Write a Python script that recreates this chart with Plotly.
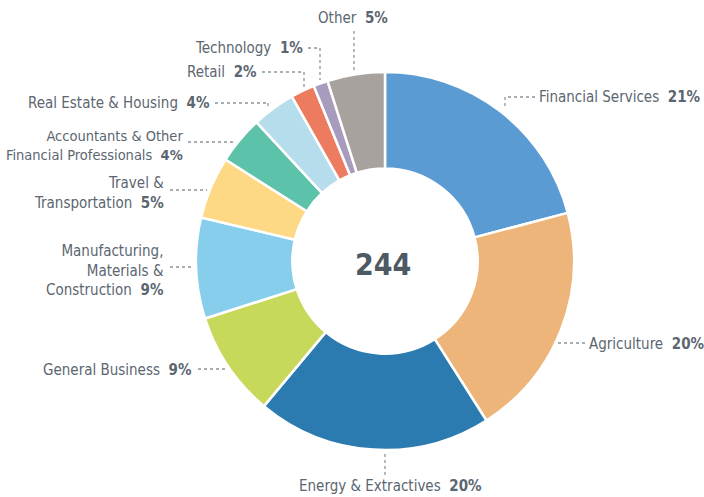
import plotly.graph_objects as go

categories = ["Financial Services", "Agriculture", "Energy & Extractives", "General Business",
              "Manufacturing, Materials & Construction", "Travel & Transportation",
              "Accountants & Other Financial Professionals", "Real Estate & Housing",
              "Retail", "Technology", "Other"]
values = [51, 49, 49, 22, 21, 13, 10, 9, 5, 3, 12]
colors = ["#5A9BD4", "#EDB57A", "#2C7BB0", "#C8D85A", "#86CEEB", "#FDD885",
          "#5CC2A9", "#B5DDEB", "#EC7B5F", "#A79BBE", "#A7A29E"]
# label text lines (display wrapping)
label_lines = [["Financial Services"], ["Agriculture"], ["Energy & Extractives"], ["General Business"],
               ["Manufacturing,", "Materials &", "Construction"], ["Travel &", "Transportation"],
               ["Accountants & Other", "Financial Professionals"], ["Real Estate & Housing"],
               ["Retail"], ["Technology"], ["Other"]]

W, H = 704, 497
CX, CY, R = 385, 261, 189

total = sum(values)
pcts = [round(v / total * 100) for v in values]

TEXT = "#5B6670"
FONT = "DejaVu Sans Condensed, Liberation Sans Narrow, sans-serif"

fig = go.Figure(go.Pie(
    labels=categories, values=values, sort=False, direction="clockwise", rotation=0,
    hole=0.49, marker=dict(colors=colors, line=dict(color="white", width=2.5)),
    textinfo="none", hoverinfo="label+value+percent", showlegend=False,
    domain=dict(x=[(CX - R) / W, (CX + R) / W], y=[(H - CY - R) / H, (H - CY + R) / H]),
))

# label layout: (anchor x px, anchor y px, xanchor, yanchor, font size, leader path in px)
label_layout = [
    (537, 97, "left", "middle", 15, [(535, 97), (505, 97), (505, 108)]),
    (587, 344, "left", "middle", 15, [(585, 343), (558, 343)]),
    (390, 486, "center", "middle", 15, [(385, 475), (385, 453)]),
    (194, 370, "right", "middle", 15, [(198, 369), (225, 369)]),
    (166, 270, "right", "middle", 15, [(170, 267), (194, 267)]),
    (166, 193, "right", "middle", 15, [(170, 190), (207, 190)]),
    (185, 146, "right", "middle", 14.5, [(188, 142), (233, 142)]),
    (212, 103, "right", "middle", 15, [(215, 103), (268, 103), (268, 108)]),
    (259, 72, "right", "middle", 15, [(262, 72), (304, 72), (304, 88)]),
    (305, 48, "right", "middle", 15, [(308, 48), (320, 48), (320, 80)]),
    (353, 18, "center", "middle", 15, [(354, 31), (354, 70)]),
]

def px(x, y):
    return x / W, 1 - y / H

annotations = []
shapes = []
for lines, p, (ax, ay, xa, ya, fs, path) in zip(label_lines, pcts, label_layout):
    txt = "<br>".join(lines[:-1] + [lines[-1] + "&nbsp;&nbsp;<b>%d%%</b>" % p])
    x, y = px(ax, ay)
    annotations.append(dict(x=x, y=y, xref="paper", yref="paper", xanchor=xa, yanchor=ya,
                            text=txt, showarrow=False, align="right" if xa == "right" else "left",
                            font=dict(family=FONT, size=fs, color=TEXT)))
    for (x0, y0), (x1, y1) in zip(path[:-1], path[1:]):
        a0, b0 = px(x0, y0)
        a1, b1 = px(x1, y1)
        shapes.append(dict(type="line", xref="paper", yref="paper", x0=a0, y0=b0, x1=a1, y1=b1,
                           line=dict(color="#8C959C", width=1.3, dash="dot")))

cx, cy = px(CX - 2, CY + 3)
annotations.append(dict(x=cx, y=cy, xref="paper", yref="paper", xanchor="center", yanchor="middle",
                        text="<b>%d</b>" % total, showarrow=False,
                        font=dict(family="DejaVu Sans Condensed, sans-serif", size=30, color="#4E5A63")))

fig.update_layout(width=W, height=H, margin=dict(l=0, r=0, t=0, b=0),
                  paper_bgcolor="white", plot_bgcolor="white",
                  annotations=annotations, shapes=shapes)
fig.write_html("out.html", config={"displayModeBar": False},
               post_script="document.body.style.margin='0';document.body.style.overflow='hidden';")
